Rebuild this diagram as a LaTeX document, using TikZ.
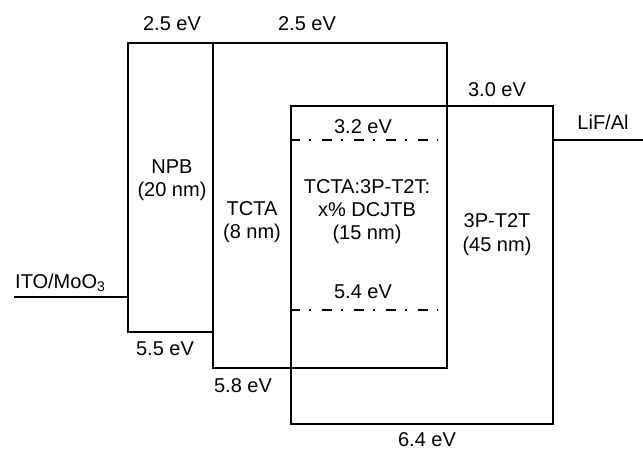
\documentclass[tikz,border=0pt]{standalone}
\usepackage{fontspec}
\setmainfont{Liberation Sans}
\begin{document}
\begin{tikzpicture}[x=1pt,y=-1pt,
  layer/.style={draw, line width=2pt, inner sep=0pt, anchor=north west},
  lbl/.style={font=\fontsize{20}{24}\selectfont, inner sep=0pt, anchor=base},
  lvl/.style={line width=2pt},
  dopant/.style={line width=2pt, dash pattern=on 10pt off 9pt on 2pt off 11pt}]
\useasboundingbox (0,0) rectangle (643,451);
% layers
\node[layer, minimum width=85pt, minimum height=289pt] (npb) at (127,42) {};
\node[layer, minimum width=234pt, minimum height=325pt] (tcta) at (212,42) {};
\node[layer, minimum width=262pt, minimum height=318pt] (tpt) at (290,105) {};
% electrodes
\coordinate (itoend) at (14,297);
\coordinate (lifend) at (643,140);
\draw[lvl] (itoend) -- (npb.west |- itoend);
\draw[lvl] (tpt.east |- lifend) -- (lifend);
% dopant levels
\coordinate (d1a) at (290,140);
\coordinate (d1b) at (438,140);
\coordinate (d2a) at (290,310);
\coordinate (d2b) at (438,310);
\draw[dopant] (d1a) -- (d1b);
\draw[dopant] (d2a) -- (d2b);
% labels
\node[lbl] (l1) at (172,30) {2.5 eV};
\node[lbl] (l2) at (307,30) {2.5 eV};
\node[lbl] (l3) at (497,96) {3.0 eV};
\node[lbl] (l4) at (603,129) {LiF/Al};
\node[lbl] (l5) at (363,133) {3.2 eV};
\node[lbl] (l6) at (172,173) {NPB};
\node[lbl] (l7) at (172,196) {(20 nm)};
\node[lbl] (l8) at (252,215) {TCTA};
\node[lbl] (l9) at (252,238) {(8 nm)};
\node[lbl] (l10) at (367,193) {TCTA:3P-T2T:};
\node[lbl] (l11) at (367,216) {x\% DCJTB};
\node[lbl] (l12) at (367,239) {(15 nm)};
\node[lbl] (l13) at (497,227) {3P-T2T};
\node[lbl] (l14) at (497,251) {(45 nm)};
\node[lbl, anchor=base west] (l15) at (15,288) {ITO/MoO\textsubscript{3}};
\node[lbl] (l16) at (165,355) {5.5 eV};
\node[lbl] (l17) at (243,392) {5.8 eV};
\node[lbl] (l18) at (363,298) {5.4 eV};
\node[lbl] (l19) at (427,446) {6.4 eV};
\end{tikzpicture}
\end{document}
